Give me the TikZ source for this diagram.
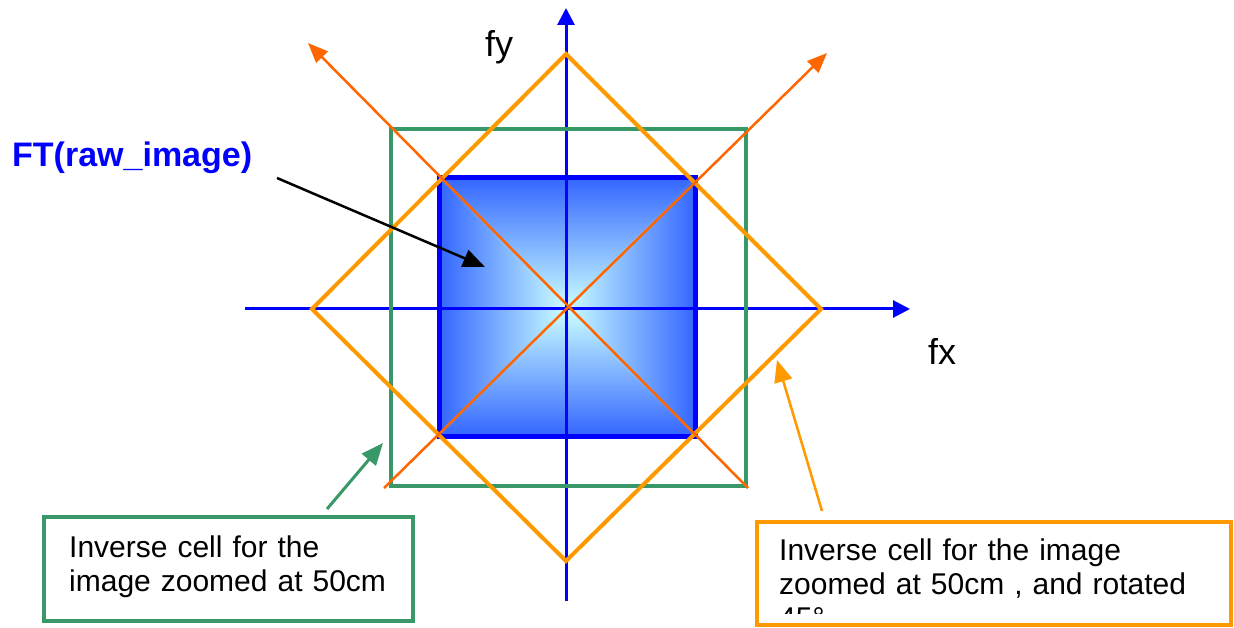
\documentclass[tikz,border=0pt]{standalone}
\usepackage{fontspec}
\setmainfont{Liberation Sans}
\usetikzlibrary{arrows.meta}
\definecolor{axblue}{RGB}{0,0,255}
\definecolor{edgeblue}{RGB}{51,102,255}
\definecolor{centercyan}{RGB}{204,255,255}
\definecolor{cellgreen}{RGB}{56,152,104}
\definecolor{diaorange}{RGB}{255,153,0}
\definecolor{diagorange}{RGB}{255,102,0}
\begin{document}
\begin{tikzpicture}[x=1pt,y=-1pt,
  axisline/.style={axblue,line width=3pt,-{Triangle[length=17pt,width=17pt]}},
  diagline/.style={diagorange,line width=2.5pt,-{Triangle[length=20pt,width=16pt]}},
  pointer/.style={line width=3pt,-{Triangle[length=22pt,width=18pt]}},
  cellbox/.style={line width=4pt,inner sep=0pt,fill=white},
  boxtext/.style={font=\fontsize{30}{34}\selectfont,anchor=base west,inner sep=0pt,text width=440pt,align=left},
  axlabel/.style={font=\fontsize{36}{40}\selectfont,anchor=base west,inner sep=0pt}
]
\useasboundingbox (0,0) rectangle (1234,628);

% coordinates
\coordinate (C) at (566,309);
\coordinate (TL) at (439,178);
\coordinate (TR) at (695,178);
\coordinate (BR) at (695,436);
\coordinate (BL) at (439,436);

% shaded square (rectangular gradient)
\shade[top color=edgeblue,bottom color=centercyan] (TL) -- (TR) -- (C) -- cycle;
\shade[top color=centercyan,bottom color=edgeblue] (BL) -- (BR) -- (C) -- cycle;
\shade[left color=edgeblue,right color=centercyan] (TL) -- (BL) -- (C) -- cycle;
\shade[left color=centercyan,right color=edgeblue] (TR) -- (BR) -- (C) -- cycle;
\draw[axblue,line width=5pt] (TL) rectangle (BR);

% axes
\coordinate (ybot) at (566,601);
\coordinate (ytop) at (566,8);
\coordinate (xleft) at (245,309);
\coordinate (xright) at (910,309);
\draw[axisline] (ybot) -- (ytop);
\draw[axisline] (xleft) -- (xright);

% green square
\draw[cellgreen,line width=4pt] (391,129) rectangle (746,486);

% orange diamond
\coordinate (DT) at (566,54);
\coordinate (DR) at (821,309);
\coordinate (DB) at (566,561);
\coordinate (DL) at (312,309);
\draw[diaorange,line width=4pt,line join=miter] (DT) -- (DR) -- (DB) -- (DL) -- cycle;

% orange diagonals
\coordinate (swend) at (384,488);
\coordinate (netip) at (827,53);
\coordinate (seend) at (748,488);
\coordinate (nwtip) at (308,43);
\draw[diagline] (swend) -- (netip);
\draw[diagline] (seend) -- (nwtip);

% axis labels
\node[axlabel] (fy) at (485,57) {fy};
\node[axlabel] (fx) at (928,364) {fx};

% FT label and arrow
\node[font=\bfseries\fontsize{34}{40}\selectfont,text=axblue,anchor=base west,inner sep=0pt] (ft) at (12,167) {FT(raw\_image)};
\coordinate (fttail) at (277,178);
\coordinate (fthead) at (485,267);
\draw[pointer,black,line width=2.5pt] (fttail) -- (fthead);

% green box
\node[cellbox,draw=cellgreen,minimum width=369pt,minimum height=104pt] (gbox) at (228.5,569) {};
\node[boxtext] (gtext) at (69,557) {Inverse cell for the\\image zoomed at 50cm};
\coordinate (gtip) at (383,443);
\draw[pointer,cellgreen] (gbox.north -| 327,0) ++(0,-6) -- (gtip);

% orange box
\node[cellbox,draw=diaorange,minimum width=474pt,minimum height=103pt] (obox) at (994,573.5) {};
\begin{scope}
\clip (757,522) rectangle (1231,613);
\node[boxtext] (otext) at (779,560) {Inverse cell for the image\\zoomed at 50cm , and rotated\\45°};
\end{scope}
\coordinate (otip) at (777,360);
\draw[pointer,diaorange,line width=2.5pt] (obox.north -| 822,0) ++(0,-9) -- (otip);
\end{tikzpicture}
\end{document}
